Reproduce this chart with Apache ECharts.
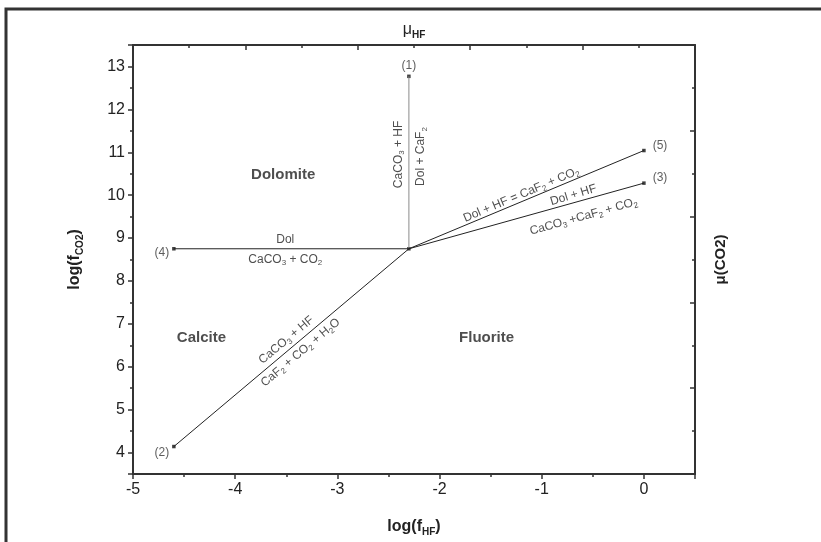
<!DOCTYPE html>
<html>
<head>
<meta charset="utf-8">
<script src="https://cdn.jsdelivr.net/npm/echarts@6/dist/echarts.min.js"></script>
<style type="text/css">
html, body { margin: 0; padding: 0; background: #fff; }
#main { width: 821px; height: 542px; }
</style>
</head>
<body>
<div id="main"></div>
<script type="text/javascript">

// axis ranges
var xMin = -5, xMax = 0.5;
var yMin = 3.5, yMax = 13.5;

// triple point where the five boundaries meet
var junctionX = -2.3;
var junctionY = 8.75;

// end points (1)..(5) of the boundaries
var endNames = ['(1)', '(2)', '(3)', '(4)', '(5)'];
var endX = [-2.3, -4.6, 0, -4.6, 0];
var endY = [12.77, 4.14, 10.28, 8.75, 11.04];

// stability fields
var fieldNames = ['Dolomite', 'Calcite', 'Fluorite'];
var fieldX = [-3.53, -4.33, -1.54];
var fieldY = [10.47, 6.67, 6.67];

// reactions written along the boundaries
var noteText = [
	'{n|Dol}',
	'{n|CaCO}{s|3}{n| + CO}{s|2}',
	'{n|CaCO}{s|3}{n| + HF}',
	'{n|Dol + CaF}{s|2}',
	'{n|CaCO}{s|3}{n| + HF}',
	'{n|CaF}{s|2}{n| + CO}{s|2}{n| + H}{s|2}{n|O}',
	'{n|Dol + HF = CaF}{s|2}{n| + CO}{s|2}',
	'{n|Dol + HF}',
	'{n|CaCO}{s|3}{n| +CaF}{s|2}{n| + CO}{s|2}'
];
var noteX = [-3.51, -3.51, -2.40, -2.18, -3.50, -3.36, -1.20, -0.69, -0.59];
var noteY = [8.97, 8.50, 10.95, 10.90, 6.62, 6.33, 10.01, 10.00, 9.50];
var noteAngle = [0, 0, 90, 90, 40, 40, 22.8, 17, 15.6];

var FONT = 'Liberation Sans, Arial, sans-serif';
var INK = '#222';

var richNote = {
	n: { fontFamily: FONT, fontSize: 12, color: INK, lineHeight: 15 },
	s: { fontFamily: FONT, fontSize: 8, color: INK, lineHeight: 15, verticalAlign: 'bottom' }
};

function intLabel(v) {
	return Math.abs(v - Math.round(v)) < 1e-9 ? String(Math.round(v)) : '';
}

var myChart = echarts.init(document.getElementById('main'));

var series = [];

// boundaries
for (var i = 0; i < endX.length; i++) {
	series.push({
		type: 'line',
		xAxisIndex: 0,
		yAxisIndex: 0,
		showSymbol: false,
		silent: true,
		lineStyle: { color: i === 0 ? '#8a8a8a' : INK, width: 1 },
		data: [[junctionX, junctionY], [endX[i], endY[i]]]
	});
}

// end point markers with their numbers
var labelPos = ['top', 'left', 'right', 'left', 'right'];
var labelOff = [[0, 0], [0, 6], [4, -5], [0, 4], [4, -5]];
series.push({
	type: 'scatter',
	symbol: 'rect',
	symbolSize: 3.5,
	itemStyle: { color: '#111' },
	data: endX.map(function (x, k) {
		return {
			value: [x, endY[k]],
			label: {
				show: true,
				formatter: endNames[k],
				position: labelPos[k],
				offset: labelOff[k],
				distance: 3,
				fontFamily: FONT,
				fontSize: 12,
				color: '#333'
			}
		};
	}).concat([{ value: [junctionX, junctionY] }])
});

// field names
series.push({
	type: 'scatter',
	symbolSize: 0,
	silent: true,
	data: fieldNames.map(function (t, k) {
		return {
			value: [fieldX[k], fieldY[k]],
			label: {
				show: true,
				formatter: t,
				position: 'inside',
				fontFamily: FONT,
				fontSize: 15,
				fontWeight: 'bold',
				color: INK
			}
		};
	})
});

// reactions
series.push({
	type: 'scatter',
	symbolSize: 0,
	silent: true,
	data: noteText.map(function (t, k) {
		return {
			value: [noteX[k], noteY[k]],
			label: {
				show: true,
				formatter: t,
				position: 'inside',
				rotate: noteAngle[k],
				align: 'center',
				verticalAlign: 'middle',
				rich: richNote
			}
		};
	})
});

var axisLineStyle = { color: '#333', width: 2 };

var option = {
	backgroundColor: '#fff',
	animation: false,
	graphic: [{
		type: 'rect',
		shape: { x: 6, y: 9, width: 900, height: 600 },
		style: { fill: 'none', stroke: '#333', lineWidth: 3 },
		z: 100
	}],
	grid: { left: 133, top: 45, width: 562, height: 432 },
	xAxis: [
		{
			type: 'value', position: 'bottom', min: xMin, max: xMax, interval: 1,
			axisLine: { onZero: false, lineStyle: axisLineStyle },
			axisTick: { length: 5, lineStyle: { color: '#333', width: 1.5 } },
			axisLabel: { formatter: intLabel, fontFamily: FONT, fontSize: 16, color: INK, margin: 8 },
			splitLine: { show: false },
			name: '{b|log(f}{bs|HF}{b|)}',
			nameLocation: 'middle',
			nameGap: 43,
			nameTextStyle: {
				rich: {
					b: { fontFamily: FONT, fontSize: 16, fontWeight: 'bold', color: INK, lineHeight: 20 },
					bs: { fontFamily: FONT, fontSize: 10, fontWeight: 'bold', color: INK, lineHeight: 20, verticalAlign: 'bottom' }
				}
			}
		},
		{
			type: 'value', position: 'bottom', min: xMin, max: xMax, interval: 0.5,
			axisLine: { show: false, onZero: false },
			axisTick: { length: 3, lineStyle: { color: '#333', width: 1.5 } },
			axisLabel: { show: false },
			splitLine: { show: false }
		},
		{
			type: 'value', position: 'top', min: 0, max: 10, interval: 2,
			axisLine: { onZero: false, lineStyle: axisLineStyle },
			axisTick: { inside: true, length: 5, lineStyle: { color: '#333', width: 1.5 } },
			minorTick: { show: true, splitNumber: 2, length: 3, lineStyle: { color: '#333', width: 1.5 } },
			axisLabel: { show: false },
			splitLine: { show: false },
			name: '{m|\u03bc}{ms|HF}',
			nameLocation: 'middle',
			nameGap: 5,
			nameTextStyle: {
				rich: {
					m: { fontFamily: FONT, fontSize: 16, color: INK, lineHeight: 20 },
					ms: { fontFamily: FONT, fontSize: 10, fontWeight: 'bold', color: INK, lineHeight: 20, verticalAlign: 'bottom' }
				}
			}
		}
	],
	yAxis: [
		{
			type: 'value', position: 'left', min: yMin, max: yMax, splitNumber: 10,
			axisLine: { onZero: false, lineStyle: axisLineStyle },
			axisTick: { length: 5, lineStyle: { color: '#333', width: 1.5 } },
			axisLabel: { formatter: intLabel, fontFamily: FONT, fontSize: 16, color: INK, margin: 8 },
			splitLine: { show: false },
			name: '{b|log(f}{bs|CO2}{b|)}',
			nameLocation: 'middle',
			nameGap: 48,
			nameTextStyle: {
				rich: {
					b: { fontFamily: FONT, fontSize: 16, fontWeight: 'bold', color: INK, lineHeight: 20 },
					bs: { fontFamily: FONT, fontSize: 10, fontWeight: 'bold', color: INK, lineHeight: 20, verticalAlign: 'bottom' }
				}
			}
		},
		{
			type: 'value', position: 'left', min: yMin, max: yMax, interval: 0.5,
			axisLine: { show: false, onZero: false },
			axisTick: { length: 3, lineStyle: { color: '#333', width: 1.5 } },
			axisLabel: { show: false },
			splitLine: { show: false }
		},
		{
			type: 'value', position: 'right', min: 0, max: 10, interval: 2,
			axisLine: { onZero: false, lineStyle: axisLineStyle },
			axisTick: { inside: true, length: 5, lineStyle: { color: '#333', width: 1.5 } },
			minorTick: { show: true, splitNumber: 2, length: 3, lineStyle: { color: '#333', width: 1.5 } },
			axisLabel: { show: false },
			splitLine: { show: false },
			name: '\u03bc(CO2)',
			nameLocation: 'middle',
			nameGap: 18,
			nameRotate: 90,
			nameTextStyle: { fontFamily: FONT, fontSize: 15, fontWeight: 'bold', color: INK }
		}
	],
	series: series
};

myChart.setOption(option);

</script>
</body>
</html>
